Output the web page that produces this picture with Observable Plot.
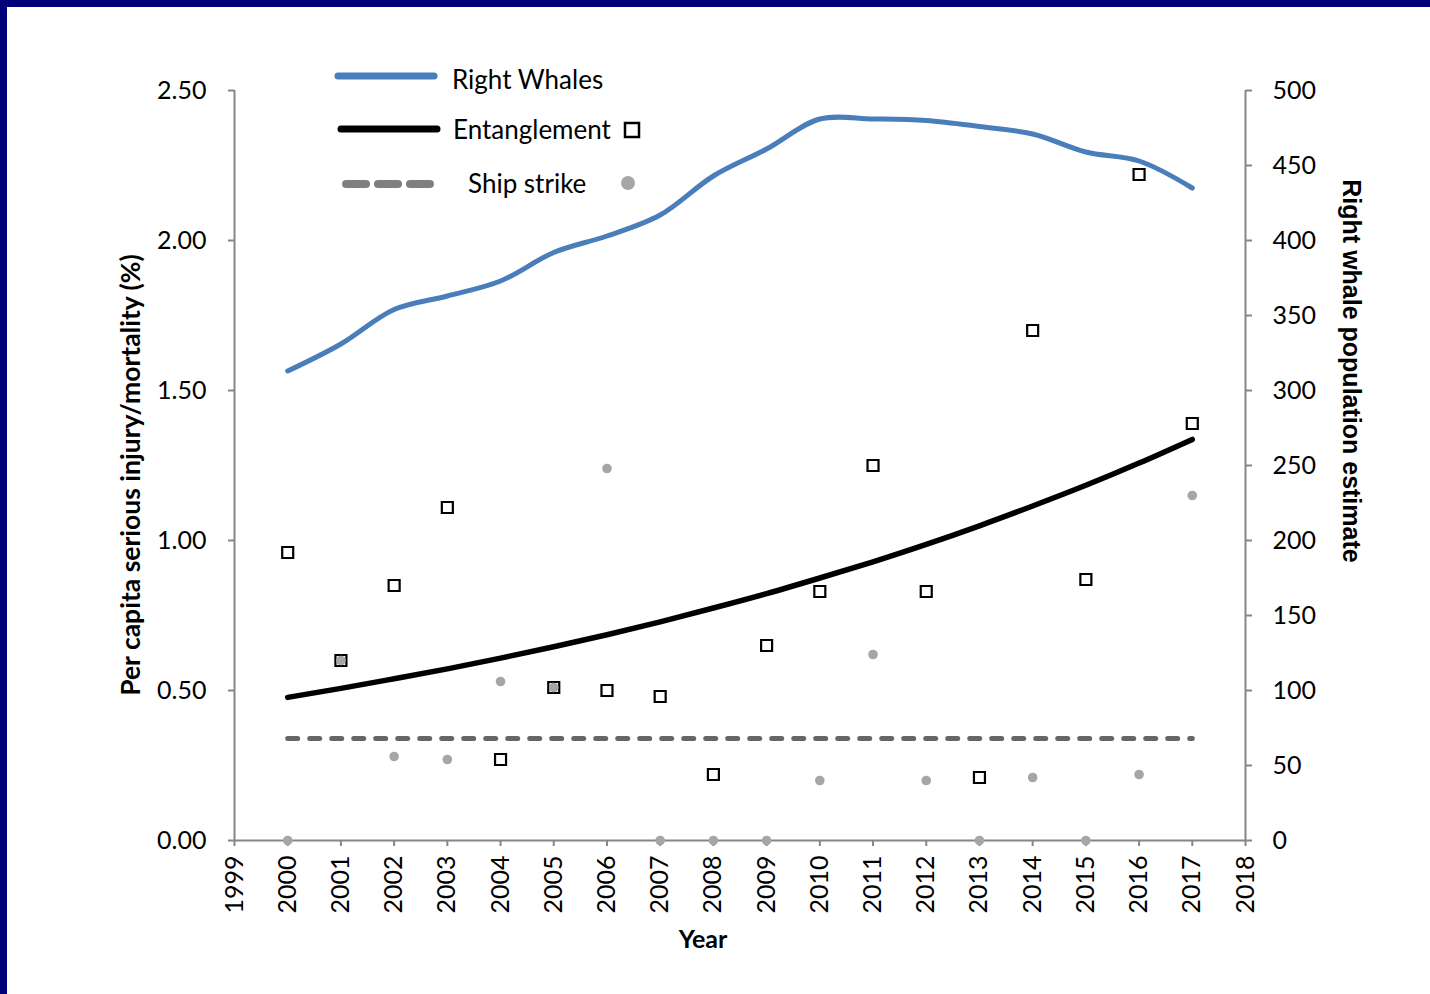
<!DOCTYPE html>
<html>
<head>
<meta charset="utf-8">
<script src="https://cdn.jsdelivr.net/npm/d3@7"></script>
<script src="https://cdn.jsdelivr.net/npm/@observablehq/plot@0.6"></script>
<style>
  html, body { margin: 0; padding: 0; background: #fff; }
  #frame { position: relative; width: 1430px; height: 994px; background: #fff; overflow: hidden; font-family: Lato, "Open Sans", sans-serif; }
  #bt { position: absolute; left: 0; top: 0; width: 1430px; height: 7px; background: #000078; }
  #bl { position: absolute; left: 0; top: 0; width: 7px; height: 994px; background: #000078; }
  #chart { position: absolute; left: 0; top: 0; }
  .title { position: absolute; white-space: nowrap; font-weight: bold; color: #000; }
  #legend { position: absolute; left: 0; top: 0; }
  .lg { position: absolute; white-space: nowrap; font-size: 26px; color: #000; transform: translateY(-50%); }
</style>
</head>
<body>
<div id="frame">
  <div id="chart"></div>
  <div id="bt"></div>
  <div id="bl"></div>
  <div class="title" id="ytitle" style="left:130px; top:475px; font-size:26.5px; transform: translate(-50%,-50%) rotate(-90deg);">Per capita serious injury/mortality (%)</div>
  <div class="title" id="y2title" style="left:1351px; top:371px; font-size:25px; font-family:'Liberation Sans', Arial, sans-serif; transform: translate(-50%,-50%) rotate(90deg);">Right whale population estimate</div>
  <div class="title" id="xtitle" style="left:703px; top:938px; font-size:25px; transform: translate(-50%,-50%);">Year</div>
  <svg id="legend" width="1430" height="260">
    <line x1="338" x2="434" y1="76" y2="76" stroke="#4a7ebb" stroke-width="7" stroke-linecap="round"/>
    <line x1="341" x2="437" y1="129" y2="129" stroke="#000" stroke-width="7" stroke-linecap="round"/>
    <line x1="346" x2="430" y1="184" y2="184" stroke="#7f7f7f" stroke-width="8" stroke-linecap="round" stroke-dasharray="20,12"/>
    <rect x="625" y="123" width="14" height="14" fill="#fff" stroke="#000" stroke-width="2.5"/>
    <circle cx="628" cy="183" r="7" fill="#a6a6a6"/>
  </svg>
  <div class="lg" style="left:452px; top:79px;">Right Whales</div>
  <div class="lg" style="left:453px; top:129px;">Entanglement</div>
  <div class="lg" style="left:468px; top:183px;">Ship strike</div>
</div>
<script>
// ---- data ----
const years = [2000, 2001, 2002, 2003, 2004, 2005, 2006, 2007, 2008, 2009, 2010, 2011, 2012, 2013, 2014, 2015, 2016, 2017];
// Right whale population estimate (right axis)
const population = [313, 331, 354, 363, 373, 392, 403, 417, 443, 461, 481, 481, 480, 476, 471, 459, 453, 435];
// Entanglement per capita serious injury/mortality (%) – squares
const entanglement = [0.96, 0.60, 0.85, 1.11, 0.27, 0.51, 0.50, 0.48, 0.22, 0.65, 0.83, 1.25, 0.83, 0.21, 1.70, 0.87, 2.22, 1.39];
// Ship strike per capita serious injury/mortality (%) – dots
const shipStrike = [0.00, 0.60, 0.28, 0.27, 0.53, 0.51, 1.24, 0.00, 0.00, 0.00, 0.20, 0.62, 0.20, 0.00, 0.21, 0.00, 0.22, 1.15];
// Entanglement trend line (black)
const entanglementTrend = [0.477, 0.507, 0.539, 0.572, 0.608, 0.646, 0.686, 0.729, 0.775, 0.823, 0.875, 0.929, 0.987, 1.049, 1.115, 1.184, 1.258, 1.337];
// Ship strike trend line (grey dashed)
const shipStrikeTrend = [0.34, 0.34, 0.34, 0.34, 0.34, 0.34, 0.34, 0.34, 0.34, 0.34, 0.34, 0.34, 0.34, 0.34, 0.34, 0.34, 0.34, 0.34];
// tick labels
const xTicks = [1999, 2000, 2001, 2002, 2003, 2004, 2005, 2006, 2007, 2008, 2009, 2010, 2011, 2012, 2013, 2014, 2015, 2016, 2017, 2018];
const leftTicks = [0, 0.5, 1.0, 1.5, 2.0, 2.5];
const rightTicks = [0, 50, 100, 150, 200, 250, 300, 350, 400, 450, 500];
const popMax = 500, pctMax = 2.5;

const rows = years.map((year, i) => ({
  year,
  population: population[i],
  entanglement: entanglement[i],
  shipStrike: shipStrike[i],
  entanglementTrend: entanglementTrend[i],
  shipStrikeTrend: shipStrikeTrend[i]
}));
const toLeft = v => v * pctMax / popMax;

const axisColor = "#868686";
const chart = Plot.plot({
  width: 1430,
  height: 994,
  marginLeft: 234,
  marginRight: 185,
  marginTop: 90,
  marginBottom: 154,
  style: { background: "transparent", fontFamily: "Lato, 'Open Sans', sans-serif", fontSize: "25px", color: "#000", overflow: "visible" },
  x: { domain: [1999, 2018] },
  y: { domain: [0, pctMax] },
  marks: [
    Plot.axisX({ ticks: xTicks, tickFormat: d => String(d), tickRotate: -90, tickSize: 6, tickPadding: 9, stroke: axisColor, strokeWidth: 2, fill: "#000", label: null }),
    Plot.axisY({ anchor: "left", ticks: leftTicks, tickFormat: d => d.toFixed(2), tickSize: 6, tickPadding: 22, stroke: axisColor, strokeWidth: 2, fill: "#000", label: null }),
    Plot.axisY({ anchor: "right", ticks: rightTicks.map(toLeft), tickFormat: d => String(Math.round(d * popMax / pctMax)), tickSize: 6, tickPadding: 21, stroke: axisColor, strokeWidth: 2, fill: "#000", label: null }),
    Plot.ruleY([0], { stroke: axisColor, strokeWidth: 2 }),
    Plot.ruleX([1999], { stroke: axisColor, strokeWidth: 2 }),
    Plot.ruleX([2018], { stroke: axisColor, strokeWidth: 2 }),
    Plot.lineY(rows, { x: "year", y: "shipStrikeTrend", stroke: "#666666", strokeWidth: 5, strokeDasharray: "10,12", strokeLinecap: "round" }),
    Plot.lineY(rows, { x: "year", y: "entanglementTrend", stroke: "#000", strokeWidth: 5.5, curve: "natural" }),
    Plot.lineY(rows, { x: "year", y: d => toLeft(d.population), stroke: "#4a7ebb", strokeWidth: 5, curve: "catmull-rom" }),
    Plot.dot(rows, { x: "year", y: "entanglement", symbol: "square", r: 6.2, fill: "#fff", stroke: "#000", strokeWidth: 2.2 }),
    Plot.dot(rows, { x: "year", y: "shipStrike", r: 4.8, fill: "#a6a6a6", stroke: "none" })
  ]
});
document.getElementById("chart").appendChild(chart);
</script>
</body>
</html>
